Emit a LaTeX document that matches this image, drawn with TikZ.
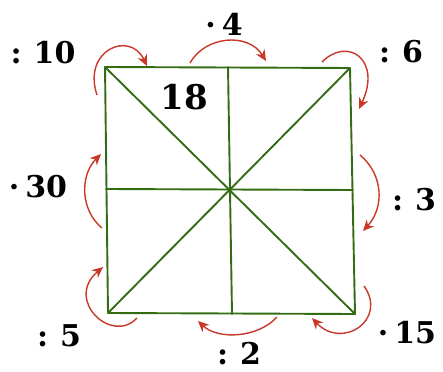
\documentclass[tikz,border=0pt]{standalone}
\usepackage{fontspec}
\setmainfont{DejaVu Serif}
\usetikzlibrary{arrows.meta}
\definecolor{sqgreen}{RGB}{52,108,20}
\definecolor{arred}{RGB}{200,55,40}
\tikzset{
  sqline/.style={draw=sqgreen, line width=1.9pt, line cap=round, line join=round},
  redarr/.style={draw=arred, line width=1.4pt, -{Stealth[length=11pt,width=10pt]}},
  lab/.style={font=\fontsize{30}{33}\selectfont\bfseries, inner sep=0pt, anchor=center},
  biglab/.style={font=\fontsize{34}{37}\selectfont\bfseries, inner sep=0pt, anchor=center}
}
\begin{document}
\begin{tikzpicture}[x=1pt,y=-1pt]
\useasboundingbox (0,0) rectangle (443,371);
% square corners and midpoints
\coordinate (TL) at (105,67);
\coordinate (TR) at (350,68);
\coordinate (BR) at (355,314);
\coordinate (BL) at (108,313);
\coordinate (MT) at (228,67);
\coordinate (MB) at (232,314);
\coordinate (ML) at (106,189);
\coordinate (MR) at (353,190);
\coordinate (C) at (230,190);
\draw[sqline] (TL) -- (TR) -- (BR) -- (BL) -- cycle;
\draw[sqline] (MT) -- (MB);
\draw[sqline] (ML) -- (MR);
\draw[sqline] (TL) -- (BR);
\draw[sqline] (TR) -- (BL);
% labels
\node[lab] (l10) at (43,53) {:\hspace{0.4em}10};
\node[lab] (l4) at (224,24) {·\hspace{0.2em}4};
\node[lab] (l6) at (401,52) {:\hspace{0.4em}6};
\node[biglab] (l18) at (184,97) {18};
\node[lab] (l30) at (38,187) {·\hspace{0.2em}30};
\node[lab] (l3) at (414,200) {:\hspace{0.4em}3};
\node[lab] (l5) at (59,336) {:\hspace{0.4em}5};
\node[lab] (l2) at (239,354) {:\hspace{0.4em}2};
\node[lab] (l15) at (407,333) {·\hspace{0.2em}15};
% arrow endpoints
\coordinate (a1s) at (97,95);   \coordinate (a1e) at (147,66);
\coordinate (a2s) at (190,63);  \coordinate (a2e) at (266,61);
\coordinate (a3s) at (322,62);  \coordinate (a3e) at (359,109);
\coordinate (a4s) at (360,155); \coordinate (a4e) at (363,231);
\coordinate (a5s) at (364,286); \coordinate (a5e) at (312,318);
\coordinate (a6s) at (277,317); \coordinate (a6e) at (198,321);
\coordinate (a7s) at (137,318); \coordinate (a7e) at (103,267);
\coordinate (a8s) at (102,228); \coordinate (a8e) at (101,154);
\draw[redarr] (a1s) .. controls (82,50) and (130,30) .. (a1e);
\draw[redarr] (a2s) .. controls (205,36) and (248,32) .. (a2e);
\draw[redarr] (a3s) .. controls (348,36) and (382,60) .. (a3e);
\draw[redarr] (a4s) .. controls (384,175) and (384,208) .. (a4e);
\draw[redarr] (a5s) .. controls (388,320) and (342,350) .. (a5e);
\draw[redarr] (a6s) .. controls (258,338) and (218,340) .. (a6e);
\draw[redarr] (a7s) .. controls (112,345) and (64,300) .. (a7e);
\draw[redarr] (a8s) .. controls (80,210) and (80,175) .. (a8e);
\end{tikzpicture}
\end{document}
